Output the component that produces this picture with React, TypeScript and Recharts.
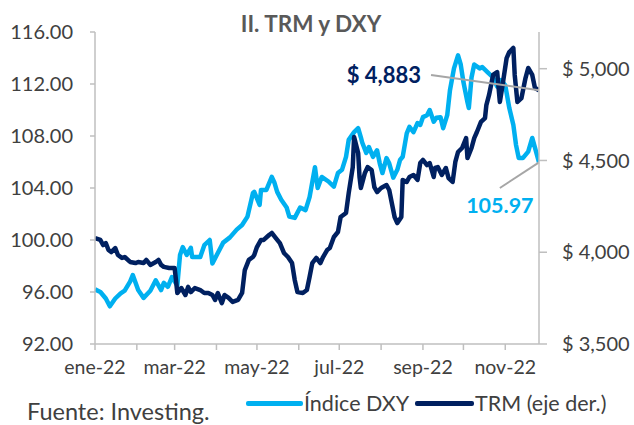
import React from "react";
import {
  LineChart,
  Line,
  XAxis,
  YAxis,
  ReferenceLine,
  ReferenceDot,
} from "recharts";

const monthLabels = ["ene-22", "feb-22", "mar-22", "abr-22", "may-22", "jun-22", "jul-22", "ago-22", "sep-22", "oct-22", "nov-22"];
const leftTicks = [92, 96, 100, 104, 108, 112, 116];
const rightTicks = [3500, 4000, 4500, 5000];

const dxyDates = [
  "2022-01-03", "2022-01-07", "2022-01-11", "2022-01-14", "2022-01-18", "2022-01-22", "2022-01-25", "2022-01-29", "2022-01-31",
  "2022-02-04", "2022-02-08", "2022-02-13", "2022-02-17", "2022-02-21", "2022-02-23", "2022-02-26",
  "2022-03-01", "2022-03-05", "2022-03-07", "2022-03-09", "2022-03-12", "2022-03-15", "2022-03-16", "2022-03-22", "2022-03-25", "2022-03-29", "2022-03-31",
  "2022-04-04", "2022-04-08", "2022-04-13", "2022-04-18", "2022-04-22", "2022-04-26", "2022-04-30",
  "2022-05-01", "2022-05-05", "2022-05-06", "2022-05-10", "2022-05-14", "2022-05-16", "2022-05-18", "2022-05-21", "2022-05-25", "2022-05-27", "2022-05-31",
  "2022-06-04", "2022-06-08", "2022-06-11", "2022-06-15", "2022-06-17", "2022-06-20", "2022-06-25", "2022-06-29",
  "2022-07-02", "2022-07-05", "2022-07-08", "2022-07-10", "2022-07-14", "2022-07-17", "2022-07-19", "2022-07-20", "2022-07-23", "2022-07-25", "2022-07-28", "2022-07-31",
  "2022-08-02", "2022-08-04", "2022-08-07", "2022-08-09", "2022-08-12", "2022-08-15", "2022-08-17", "2022-08-19", "2022-08-22", "2022-08-24", "2022-08-27", "2022-08-30",
  "2022-09-01", "2022-09-03", "2022-09-06", "2022-09-08", "2022-09-11", "2022-09-13", "2022-09-16", "2022-09-18", "2022-09-21", "2022-09-23", "2022-09-26", "2022-09-29",
  "2022-10-01", "2022-10-03", "2022-10-06", "2022-10-07", "2022-10-09", "2022-10-11", "2022-10-15", "2022-10-17", "2022-10-21", "2022-10-25", "2022-10-28", "2022-10-31",
  "2022-11-03", "2022-11-06", "2022-11-09", "2022-11-11", "2022-11-13", "2022-11-16", "2022-11-20", "2022-11-23", "2022-11-25", "2022-11-28",
];
const dxyValues = [
  96.2, 96.0, 95.5, 94.9, 95.5, 95.9, 96.1, 96.8, 97.3,
  96.15, 95.55, 96.1, 96.9, 96.15, 96.7, 96.4,
  97.15, 96.5, 98.85, 99.45, 98.85, 99.4, 98.7, 98.7, 99.6, 100.0, 98.2,
  99.0, 99.8, 100.2, 100.8, 101.15, 101.8, 103.6,
  103.7, 102.7, 103.85, 103.85, 104.85, 104.4, 103.7, 103.1, 102.5, 101.8, 101.7,
  102.5, 102.3, 103.3, 105.6, 104.0, 104.85, 104.5, 104.1,
  105.15, 105.4, 106.4, 107.7, 108.3, 108.6, 107.9, 107.5, 106.7, 107.15, 106.4, 106.9,
  105.9, 105.15, 106.3, 105.9, 104.8, 105.4, 106.15, 106.4, 108.2, 108.7, 108.3, 109.0,
  108.85, 109.45, 109.6, 110.0, 109.1, 109.4, 109.45, 108.6, 109.6, 111.5, 113.2, 114.2,
  113.5, 112.15, 110.6, 110.15, 112.5, 113.5, 113.2, 113.3, 112.9, 112.5, 111.8, 112.3,
  111.9, 110.15, 108.85, 107.3, 106.3, 106.3, 106.8, 107.85, 107.1, 105.97,
];

const trmDates = [
  "2022-01-03", "2022-01-07", "2022-01-09", "2022-01-11", "2022-01-13", "2022-01-15", "2022-01-18", "2022-01-20", "2022-01-23", "2022-01-25", "2022-01-29",
  "2022-02-02", "2022-02-04", "2022-02-08", "2022-02-10", "2022-02-13", "2022-02-17", "2022-02-19", "2022-02-21", "2022-02-23", "2022-02-27",
  "2022-03-03", "2022-03-04", "2022-03-05", "2022-03-08", "2022-03-11", "2022-03-13", "2022-03-15", "2022-03-18", "2022-03-22", "2022-03-25", "2022-03-28", "2022-03-31",
  "2022-04-02", "2022-04-04", "2022-04-07", "2022-04-09", "2022-04-12", "2022-04-15", "2022-04-19", "2022-04-22", "2022-04-24", "2022-04-27", "2022-04-30",
  "2022-05-01", "2022-05-03", "2022-05-06", "2022-05-08", "2022-05-12", "2022-05-14", "2022-05-17", "2022-05-20", "2022-05-23", "2022-05-26", "2022-05-29", "2022-05-31",
  "2022-06-02", "2022-06-06", "2022-06-09", "2022-06-11", "2022-06-13", "2022-06-16", "2022-06-19", "2022-06-21", "2022-06-24", "2022-06-26", "2022-06-29",
  "2022-07-02", "2022-07-04", "2022-07-08", "2022-07-10", "2022-07-13", "2022-07-14", "2022-07-17", "2022-07-18", "2022-07-19", "2022-07-22", "2022-07-24", "2022-07-27", "2022-07-29", "2022-07-31",
  "2022-08-03", "2022-08-07", "2022-08-09", "2022-08-13", "2022-08-15", "2022-08-18", "2022-08-19", "2022-08-22", "2022-08-24", "2022-08-27", "2022-08-30",
  "2022-09-01", "2022-09-03", "2022-09-06", "2022-09-08", "2022-09-11", "2022-09-12", "2022-09-14", "2022-09-17", "2022-09-20", "2022-09-22", "2022-09-25", "2022-09-27", "2022-09-29",
  "2022-10-02", "2022-10-05", "2022-10-06", "2022-10-09", "2022-10-11", "2022-10-13", "2022-10-16", "2022-10-19", "2022-10-20", "2022-10-22", "2022-10-25", "2022-10-28", "2022-10-30",
  "2022-11-01", "2022-11-04", "2022-11-06", "2022-11-09", "2022-11-10", "2022-11-12", "2022-11-15", "2022-11-18", "2022-11-20", "2022-11-23", "2022-11-25", "2022-11-28",
];
const trmValues = [
  4077, 4067, 4039, 4050, 4012, 4001, 4023, 3985, 3969, 3974, 3947,
  3941, 3947, 3941, 3958, 3931, 3947, 3958, 3931, 3920, 3914,
  3914, 3849, 3778, 3805, 3767, 3811, 3783, 3805, 3794, 3778, 3778, 3767,
  3740, 3778, 3723, 3767, 3751, 3729, 3740, 3778, 3903, 3958, 3974,
  3985, 4028, 4067, 4067, 4094, 4105, 4077, 4050, 3996, 3974, 3941, 3849,
  3783, 3778, 3794, 3865, 3941, 3969, 3941, 3974, 4012, 4023, 4083,
  4110, 4192, 4214, 4323, 4464, 4628, 4541, 4410, 4350, 4432, 4464, 4448, 4355, 4328,
  4350, 4366, 4339, 4192, 4159, 4192, 4394, 4383, 4410, 4421, 4394,
  4486, 4503, 4475, 4486, 4410, 4459, 4464, 4421, 4459, 4404, 4383, 4492, 4546,
  4568, 4622, 4513, 4568, 4622, 4655, 4710, 4731, 4802, 4857, 4966, 4982, 4819,
  4911, 5058, 5091, 5113, 4966, 4819, 4840, 4949, 5004, 4966, 4895, 4883,
];

// annotation anchor points (data coordinates)
const trmNoteDate = "2022-09-09";
const trmNoteValue = 4966;
const dxyNoteDate = "2022-10-30";
const dxyNoteValue = 104.0;

const ts = (s: string) => new Date(s + "T00:00:00Z").getTime();

type Row = { t: number; dxy?: number; trm?: number };
const rowMap = new Map<number, Row>();
dxyDates.forEach((d, i) => {
  const t = ts(d);
  const r = rowMap.get(t) || { t };
  r.dxy = dxyValues[i];
  rowMap.set(t, r);
});
trmDates.forEach((d, i) => {
  const t = ts(d);
  const r = rowMap.get(t) || { t };
  r.trm = trmValues[i];
  rowMap.set(t, r);
});
const data: Row[] = Array.from(rowMap.values()).sort((a, b) => a.t - b.t);

const xTicks = monthLabels.map((_, m) => Date.UTC(2022, m, 3));
const xMin = ts(dxyDates[0]);
const xMax = ts(dxyDates[dxyDates.length - 1]);

const lastDxy = dxyValues[dxyValues.length - 1];
const lastTrm = trmValues[trmValues.length - 1];
const lastT = xMax;

const DXY_COLOR = "#00B0F0";
const TRM_COLOR = "#002060";
const AXIS_COLOR = "#BFBFBF";
const TEXT_COLOR = "#404040";
const FONT = "Lato, 'Noto Sans', sans-serif";

const fmtMoney = (v: number) => "$ " + v.toLocaleString("en-US");

export default function App() {
  const xTickStyle = { fill: TEXT_COLOR, fontSize: 19.5, fontFamily: FONT };
  const yTickStyle = { fill: TEXT_COLOR, fontSize: 20, fontFamily: FONT };
  return (
    <div
      style={{
        position: "absolute",
        left: 0,
        top: 0,
        width: 634,
        height: 425,
        background: "#fff",
        fontFamily: FONT,
        overflow: "hidden",
      }}
    >
      <div
        style={{
          position: "absolute",
          left: 0,
          width: 622,
          top: 11,
          textAlign: "center",
          fontSize: 22.5,
          fontWeight: 700,
          color: "#595959",
          lineHeight: "26px",
        }}
      >
        II. TRM y DXY
      </div>
      <LineChart
        width={634}
        height={425}
        data={data}
        margin={{ top: 32, right: 0, left: 0, bottom: 51 }}
        style={{ position: "absolute", left: 0, top: 0 }}
      >
        <XAxis
          dataKey="t"
          type="number"
          scale="time"
          domain={[xMin, xMax]}
          ticks={xTicks}
          tickFormatter={(v: number) => {
            const m = new Date(v).getUTCMonth();
            return m % 2 === 0 ? monthLabels[m] : "";
          }}
          interval={0}
          height={30}
          tick={xTickStyle}
          tickSize={6}
          tickMargin={10}
          axisLine={{ stroke: AXIS_COLOR, strokeWidth: 1.5 }}
          tickLine={{ stroke: AXIS_COLOR, strokeWidth: 1.5 }}
          allowDataOverflow
        />
        <YAxis
          yAxisId="left"
          orientation="left"
          domain={[92, 116]}
          ticks={leftTicks}
          tickFormatter={(v: number) => v.toFixed(2)}
          width={95}
          tick={yTickStyle}
          tickSize={5}
          tickMargin={17}
          axisLine={{ stroke: AXIS_COLOR, strokeWidth: 1.5 }}
          tickLine={{ stroke: AXIS_COLOR, strokeWidth: 1.5 }}
          interval={0}
        />
        <YAxis
          yAxisId="right"
          orientation="right"
          domain={[3500, 5200]}
          ticks={rightTicks}
          tickFormatter={fmtMoney}
          width={95}
          tick={{ ...yTickStyle, textAnchor: "start" }}
          tickSize={8}
          tickMargin={15}
          axisLine={{ stroke: AXIS_COLOR, strokeWidth: 1.5 }}
          tickLine={{ stroke: AXIS_COLOR, strokeWidth: 1.5 }}
          interval={0}
        />
        <Line
          yAxisId="left"
          dataKey="dxy"
          stroke={DXY_COLOR}
          strokeWidth={4.5}
          dot={false}
          connectNulls
          isAnimationActive={false}
          strokeLinejoin="round"
        />
        <Line
          yAxisId="right"
          dataKey="trm"
          stroke={TRM_COLOR}
          strokeWidth={4.5}
          dot={false}
          connectNulls
          isAnimationActive={false}
          strokeLinejoin="round"
        />
        <ReferenceLine
          yAxisId="right"
          segment={[
            { x: ts(trmNoteDate), y: trmNoteValue },
            { x: lastT, y: lastTrm },
          ]}
          stroke="#A6A6A6"
          strokeWidth={2}
          ifOverflow="visible"
        />
        <ReferenceLine
          yAxisId="left"
          segment={[
            { x: ts(dxyNoteDate), y: dxyNoteValue },
            { x: lastT, y: lastDxy },
          ]}
          stroke="#A6A6A6"
          strokeWidth={2}
          ifOverflow="visible"
        />
        <ReferenceDot
          yAxisId="right"
          x={ts(trmNoteDate)}
          y={trmNoteValue}
          r={0}
          ifOverflow="visible"
          label={{
            value: fmtMoney(lastTrm),
            position: "left",
            offset: 10,
            fill: TRM_COLOR,
            fontSize: 22,
            fontWeight: 700,
            fontFamily: FONT,
          }}
        />
        <ReferenceDot
          yAxisId="left"
          x={ts(dxyNoteDate)}
          y={dxyNoteValue}
          r={0}
          ifOverflow="visible"
          label={{
            value: lastDxy.toFixed(2),
            position: "bottom",
            offset: 10,
            fill: DXY_COLOR,
            fontSize: 21.5,
            fontWeight: 700,
            fontFamily: FONT,
          }}
        />
      </LineChart>
      <div
        style={{
          position: "absolute",
          left: 27,
          top: 397,
          fontSize: 23.5,
          color: TEXT_COLOR,
          lineHeight: "28px",
          whiteSpace: "nowrap",
        }}
      >
        Fuente: Investing.
      </div>
      <div
        style={{
          position: "absolute",
          left: 246,
          top: 389,
          display: "flex",
          alignItems: "center",
          fontSize: 21.5,
          color: TEXT_COLOR,
          lineHeight: "28px",
          whiteSpace: "nowrap",
        }}
      >
        <span style={{ display: "inline-block", width: 57, height: 5, background: DXY_COLOR, borderRadius: 2 }} />
        <span style={{ marginLeft: 1 }}>Índice DXY</span>
        <span style={{ display: "inline-block", width: 59, height: 5, background: TRM_COLOR, borderRadius: 2, marginLeft: 6 }} />
        <span style={{ marginLeft: 1 }}>TRM (eje der.)</span>
      </div>
    </div>
  );
}
